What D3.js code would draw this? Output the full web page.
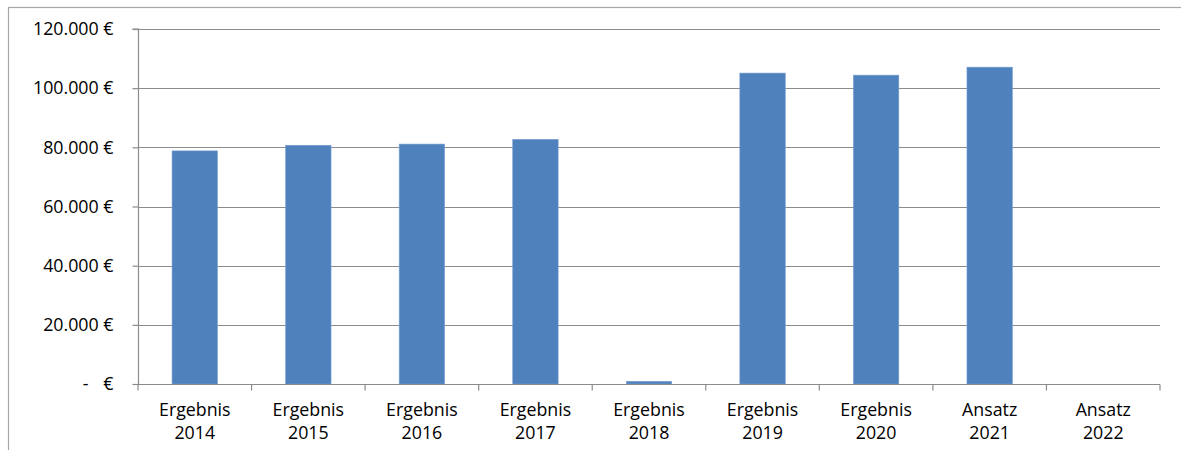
<!DOCTYPE html>
<html><head><meta charset="utf-8">
<script src="https://cdn.jsdelivr.net/npm/d3@7"></script>
<style>body{margin:0;background:#fff}svg{display:block}</style>
</head><body>
<script>
const categories = [["Ergebnis","2014"],["Ergebnis","2015"],["Ergebnis","2016"],["Ergebnis","2017"],["Ergebnis","2018"],["Ergebnis","2019"],["Ergebnis","2020"],["Ansatz","2021"],["Ansatz","2022"]];
const values = [78800, 80700, 81100, 82700, 900, 105100, 104400, 107100, 0];
const yTicks = [0, 20000, 40000, 60000, 80000, 100000, 120000];

const W = 1181, H = 450;
const svg = d3.select("body").append("svg").attr("width", W).attr("height", H);
svg.append("rect").attr("x", 8.5).attr("y", 7.5).attr("width", 1200).attr("height", 500)
  .attr("fill", "none").attr("stroke", "#a6a6a6").attr("stroke-width", 1.2);

const L = 138, R = 1160, T = 29, B = 384;
const x = d3.scaleBand().domain(categories.map(c => c.join(" "))).range([L, R]).paddingInner(0.6).paddingOuter(0.3);
const y = d3.scaleLinear().domain([0, 120000]).range([B, T]);
const font = "'Open Sans', sans-serif";
const fs = 17.8;

// gridlines
svg.append("g").selectAll("line").data(yTicks.filter(d => d > 0)).join("line")
  .attr("x1", L).attr("x2", R).attr("y1", d => Math.round(y(d)) + 0.5).attr("y2", d => Math.round(y(d)) + 0.5)
  .attr("stroke", "#8c8c8c").attr("stroke-width", 1.2);

// bars
svg.append("g").selectAll("rect").data(values).join("rect")
  .attr("x", (d, i) => x(categories[i].join(" ")))
  .attr("width", x.bandwidth())
  .attr("y", d => y(d)).attr("height", d => B - y(d))
  .attr("fill", "#4f81bd").attr("stroke", "#7aa0d0").attr("stroke-width", 0.6);

// y axis
const fmt = d => d === 0 ? "" : d3.format(",")(d).replace(/,/g, ".") + " €";
const yAxis = svg.append("g").attr("transform", `translate(${L + 0.5},0)`)
  .call(d3.axisLeft(y).tickValues(yTicks).tickSize(6).tickFormat(fmt).tickPadding(19));
yAxis.select(".domain").attr("stroke", "#8c8c8c").attr("stroke-width", 1.2).attr("d", `M-6,${T}H0V${B}`);
yAxis.selectAll(".tick line").attr("stroke", "#8c8c8c").attr("stroke-width", 1.2);
yAxis.selectAll(".tick text").attr("font-family", font).attr("font-size", fs).attr("fill", "#000");
// zero label "-   €"
const zeroTick = yAxis.selectAll(".tick").filter(d => d === 0);
zeroTick.append("text").attr("x", -53).attr("dy", "0.32em").attr("text-anchor", "middle")
  .attr("font-family", font).attr("font-size", fs).attr("fill", "#000").text("-");
zeroTick.append("text").attr("x", -25).attr("dy", "0.32em").attr("text-anchor", "end")
  .attr("font-family", font).attr("font-size", fs).attr("fill", "#000").text("€");

// x axis
const xg = svg.append("g").attr("transform", `translate(0,${B + 0.5})`);
xg.append("line").attr("x1", L).attr("x2", R).attr("stroke", "#8c8c8c").attr("stroke-width", 1.2);
const bounds = d3.range(categories.length + 1).map(i => L + i * (R - L) / categories.length);
xg.selectAll("line.tk").data(bounds).join("line").attr("class", "tk")
  .attr("x1", d => d).attr("x2", d => d).attr("y1", 0).attr("y2", 6)
  .attr("stroke", "#8c8c8c").attr("stroke-width", 1.2);
const lbl = xg.selectAll("text").data(categories).join("text")
  .attr("x", d => x(d.join(" ")) + x.bandwidth() / 2)
  .attr("text-anchor", "middle").attr("font-family", font).attr("font-size", fs).attr("fill", "#000");
lbl.append("tspan").attr("x", d => x(d.join(" ")) + x.bandwidth() / 2).attr("y", 31.5).text(d => d[0]);
lbl.append("tspan").attr("x", d => x(d.join(" ")) + x.bandwidth() / 2).attr("y", 54.5).text(d => d[1]);
</script>
</body></html>
